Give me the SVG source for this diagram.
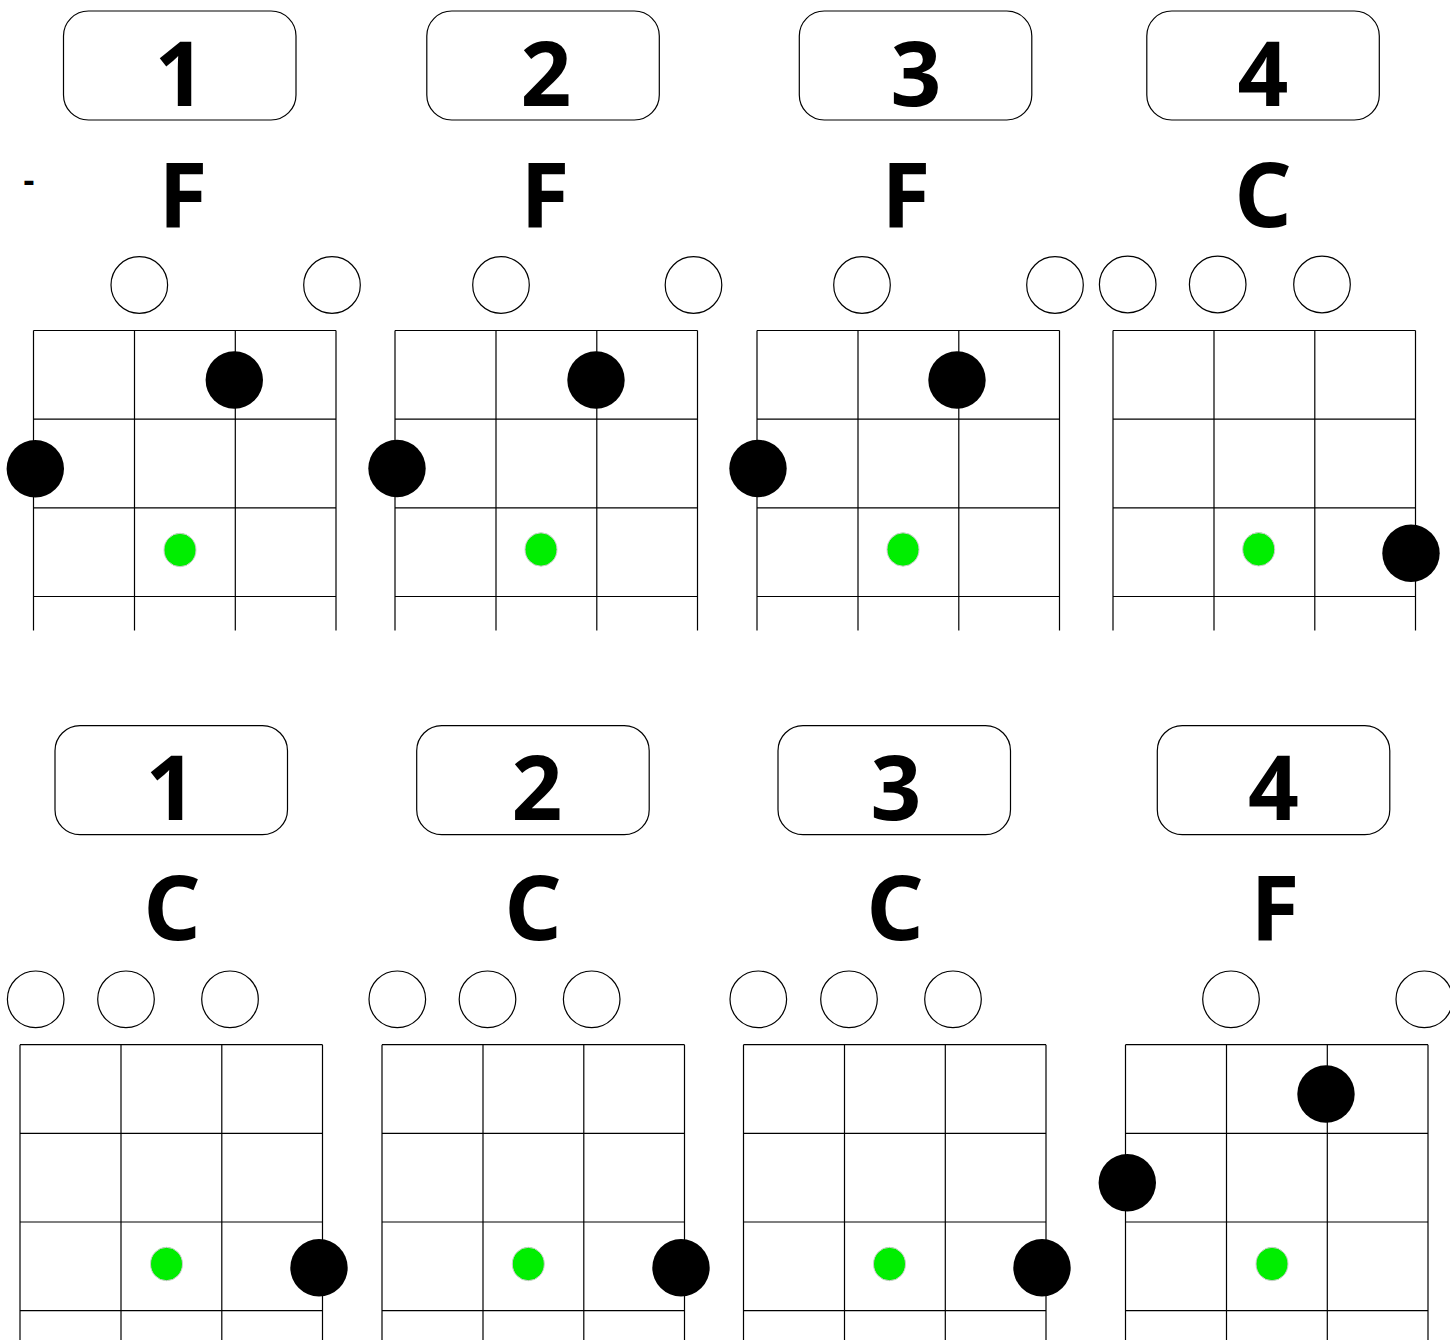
<svg xmlns="http://www.w3.org/2000/svg" xmlns:xlink="http://www.w3.org/1999/xlink" width="1450" height="1340" viewBox="0 0 1450 1340">
<style>
  .box{fill:#fff;stroke:#000;stroke-width:1.2}
  .num{font-family:"Noto Sans","DejaVu Sans",sans-serif;font-weight:bold;font-size:89px;text-anchor:middle;fill:#000}
  .chord{font-family:"Noto Sans","DejaVu Sans",sans-serif;font-weight:bold;font-size:89px;text-anchor:middle;fill:#000}
  .dash{font-family:"Noto Sans","DejaVu Sans",sans-serif;font-weight:bold;font-size:34px;text-anchor:middle;fill:#000}
  .open{fill:#fff;stroke:#000;stroke-width:1.2}
  .grid{fill:none;stroke:#000;stroke-width:1.2}
  .dot{fill:#000}
  .root{fill:#00ee00;stroke:#cccccc;stroke-width:1}
</style>
<defs>
  <path id="grid" class="grid" d="M0,0H302.5M0,88.6H302.5M0,177.3H302.5M0,266H302.5M0,0V300M101,0V300M201.8,0V300M302.5,0V300"/>
</defs>
<rect width="1450" height="1340" fill="#fff"/>
<text class="dash" x="29" y="192">-</text>
<g id="connectors"></g>

<g id="chord-top-1">
  <rect class="box" x="63.5" y="11" width="232.5" height="109" rx="25"/>
  <text class="num" x="180" y="106">1</text>
  <text class="chord" x="183" y="227">F</text>
  <circle class="open" cx="139.3" cy="285" r="28.3"/>
  <circle class="open" cx="332" cy="285" r="28.3"/>
  <use xlink:href="#grid" x="33.5" y="330.5"/>
  <circle class="dot" cx="234.3" cy="380" r="28.7"/>
  <circle class="dot" cx="35.3" cy="468.7" r="28.7"/>
  <ellipse class="root" cx="180" cy="550" rx="16" ry="16.7"/>
</g>

<g id="chord-top-2">
  <rect class="box" x="426.8" y="11" width="232.5" height="109" rx="25"/>
  <text class="num" x="546" y="106">2</text>
  <text class="chord" x="545" y="227">F</text>
  <circle class="open" cx="501" cy="285" r="28.3"/>
  <circle class="open" cx="693.5" cy="285" r="28.3"/>
  <use xlink:href="#grid" x="395" y="330.5"/>
  <circle class="dot" cx="596" cy="380" r="28.7"/>
  <circle class="dot" cx="397" cy="468.5" r="28.7"/>
  <ellipse class="root" cx="541" cy="549.5" rx="16" ry="16.7"/>
</g>

<g id="chord-top-3">
  <rect class="box" x="799.3" y="11" width="232.5" height="109" rx="25"/>
  <text class="num" x="916" y="106">3</text>
  <text class="chord" x="906" y="227">F</text>
  <circle class="open" cx="862" cy="285" r="28.3"/>
  <circle class="open" cx="1055" cy="285" r="28.3"/>
  <use xlink:href="#grid" x="757" y="330.5"/>
  <circle class="dot" cx="957" cy="380" r="28.7"/>
  <circle class="dot" cx="758" cy="468.5" r="28.7"/>
  <ellipse class="root" cx="903" cy="549.5" rx="16" ry="16.7"/>
</g>

<g id="chord-top-4">
  <rect class="box" x="1146.8" y="11" width="232.5" height="109" rx="25"/>
  <text class="num" x="1263" y="106">4</text>
  <text class="chord" x="1263" y="227">C</text>
  <circle class="open" cx="1127.7" cy="284.5" r="28.3"/>
  <circle class="open" cx="1217.7" cy="284.5" r="28.3"/>
  <circle class="open" cx="1322" cy="284.5" r="28.3"/>
  <use xlink:href="#grid" x="1113" y="330.5"/>
  <circle class="dot" cx="1411" cy="553.3" r="28.7"/>
  <ellipse class="root" cx="1258.7" cy="549.3" rx="16" ry="16.7"/>
</g>

<g id="chord-bottom-1">
  <rect class="box" x="55" y="725.7" width="232.5" height="109" rx="25"/>
  <text class="num" x="171" y="820">1</text>
  <text class="chord" x="172" y="940">C</text>
  <circle class="open" cx="35.7" cy="999.3" r="28.3"/>
  <circle class="open" cx="126" cy="999.3" r="28.3"/>
  <circle class="open" cx="230" cy="999.3" r="28.3"/>
  <use xlink:href="#grid" x="20" y="1044.7"/>
  <circle class="dot" cx="319" cy="1267.7" r="28.7"/>
  <ellipse class="root" cx="166.5" cy="1264" rx="16" ry="16.7"/>
</g>

<g id="chord-bottom-2">
  <rect class="box" x="416.7" y="725.7" width="232.5" height="109" rx="25"/>
  <text class="num" x="537" y="820">2</text>
  <text class="chord" x="533" y="940">C</text>
  <circle class="open" cx="397.3" cy="999.3" r="28.3"/>
  <circle class="open" cx="487.5" cy="999.3" r="28.3"/>
  <circle class="open" cx="591.7" cy="999.3" r="28.3"/>
  <use xlink:href="#grid" x="382" y="1044.7"/>
  <circle class="dot" cx="681" cy="1267.7" r="28.7"/>
  <ellipse class="root" cx="528.3" cy="1264" rx="16" ry="16.7"/>
</g>

<g id="chord-bottom-3">
  <rect class="box" x="778" y="725.7" width="232.5" height="109" rx="25"/>
  <text class="num" x="896" y="820">3</text>
  <text class="chord" x="895" y="940">C</text>
  <circle class="open" cx="758.3" cy="999.3" r="28.3"/>
  <circle class="open" cx="849" cy="999.3" r="28.3"/>
  <circle class="open" cx="953" cy="999.3" r="28.3"/>
  <use xlink:href="#grid" x="743.5" y="1044.7"/>
  <circle class="dot" cx="1042" cy="1267.7" r="28.7"/>
  <ellipse class="root" cx="889.5" cy="1264" rx="16" ry="16.7"/>
</g>

<g id="chord-bottom-4">
  <rect class="box" x="1157.3" y="725.7" width="232.5" height="109" rx="25"/>
  <text class="num" x="1273.5" y="820">4</text>
  <text class="chord" x="1275" y="940">F</text>
  <circle class="open" cx="1231" cy="999.3" r="28.3"/>
  <circle class="open" cx="1424.3" cy="999.3" r="28.3"/>
  <use xlink:href="#grid" x="1125.5" y="1044.7"/>
  <circle class="dot" cx="1326" cy="1094" r="28.7"/>
  <circle class="dot" cx="1127.3" cy="1182.7" r="28.7"/>
  <ellipse class="root" cx="1272" cy="1264" rx="16" ry="16.7"/>
</g>
</svg>
